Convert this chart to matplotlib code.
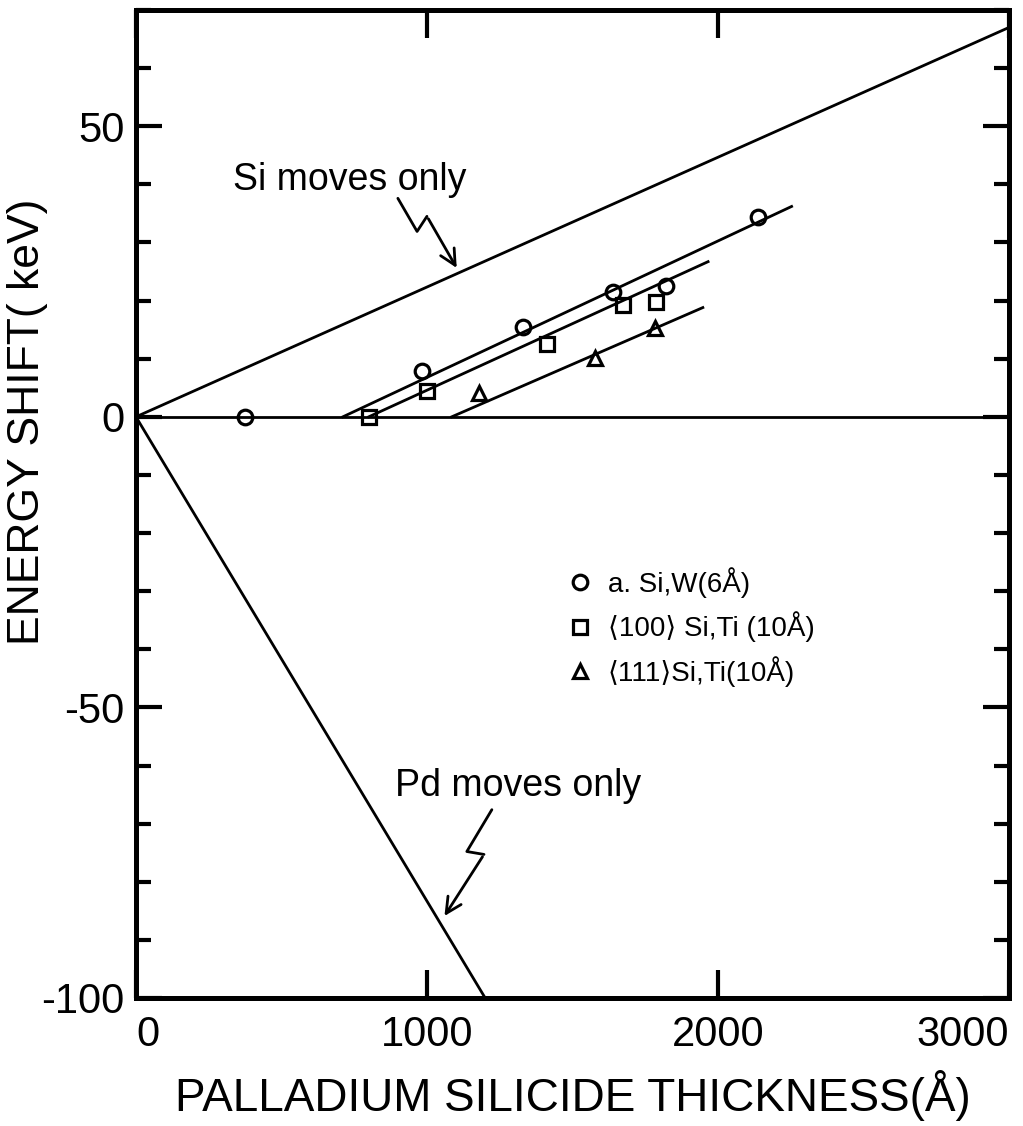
import matplotlib.pyplot as plt
from matplotlib.ticker import MultipleLocator, FixedLocator

plt.rcParams['font.family'] = ['Liberation Sans', 'DejaVu Sans']

# measured points (thickness in A, energy shift in keV)
a_si_x = [375, 982, 1329, 1640, 1821, 2139]
a_si_y = [0, 7.8, 15.5, 21.4, 22.5, 34.4]
si100_x = [802, 999, 1411, 1672, 1787]
si100_y = [0, 4.4, 12.5, 19.2, 19.7]
si111_x = [1179, 1577, 1784]
si111_y = [4.1, 10.1, 15.2]

# straight-line fits through each set
a_si_fit_x = [711, 2253]
a_si_fit_y = [0, 36.2]
si100_fit_x = [800, 1966]
si100_fit_y = [0, 26.7]
si111_fit_x = [1085, 1948]
si111_fit_y = [0, 18.8]

# limiting cases
si_only_x = [0, 3000]
si_only_y = [0, 67]
pd_only_x = [0, 1200]
pd_only_y = [0, -100]

legend_labels = ['a. Si,W(6Å)', '⟨100⟩ Si,Ti (10Å)', '⟨111⟩Si,Ti(10Å)']

LW = 2.0
fig = plt.figure(figsize=(10.23, 11.26), dpi=100)
ax = fig.add_axes([0.1329, 0.1137, 0.8534, 0.8774])

ax.plot(si_only_x, si_only_y, color='black', lw=LW)
ax.plot(pd_only_x, pd_only_y, color='black', lw=LW)
ax.axhline(0, color='black', lw=LW)

ax.plot(a_si_fit_x, a_si_fit_y, color='black', lw=LW)
ax.plot(si100_fit_x, si100_fit_y, color='black', lw=LW)
ax.plot(si111_fit_x, si111_fit_y, color='black', lw=LW)

mk = dict(ls='none', mfc='none', mec='black', mew=2.3, ms=10.5)
h1, = ax.plot(a_si_x, a_si_y, marker='o', **mk)
h2, = ax.plot(si100_x, si100_y, marker='s', **mk)
h3, = ax.plot(si111_x, si111_y, marker='^', **mk)

ax.legend([h1, h2, h3], legend_labels, loc='center left',
          bbox_to_anchor=(0.4926, 0.3755), frameon=False, fontsize=20,
          handlelength=1.0, handletextpad=0.5, labelspacing=0.5,
          borderpad=0, borderaxespad=0)

# labels with zigzag pointers
ax.text(333, 39.0, 'Si moves only', fontsize=27, va='baseline')
si_zig_x = [900, 966, 1000]
si_zig_y = [37.6, 31.9, 34.5]
ax.plot(si_zig_x, si_zig_y, color='black', lw=LW, solid_capstyle='round')
ax.annotate('', xy=(1107, 25.2), xytext=(1000, 34.5),
            arrowprops=dict(arrowstyle='->', lw=LW, mutation_scale=28, color='black'))

ax.text(890, -65.3, 'Pd moves only', fontsize=27, va='baseline')
pd_zig_x = [1223, 1137, 1196]
pd_zig_y = [-67.6, -74.8, -75.3]
ax.plot(pd_zig_x, pd_zig_y, color='black', lw=LW, solid_capstyle='round')
ax.annotate('', xy=(1055, -86.3), xytext=(1196, -75.3),
            arrowprops=dict(arrowstyle='->', lw=LW, mutation_scale=28, color='black'))

ax.set_xlim(0, 3000)
ax.set_ylim(-100, 70)

ax.xaxis.set_major_locator(FixedLocator([0, 1000, 2000, 3000]))
ax.yaxis.set_major_locator(MultipleLocator(50))
ax.yaxis.set_minor_locator(MultipleLocator(10))
ax.tick_params(axis='both', which='both', direction='in', width=3,
               labelsize=30, top=True, right=True)
ax.tick_params(axis='y', which='major', length=19, pad=8)
ax.tick_params(axis='y', which='minor', length=11)
ax.tick_params(axis='x', which='major', length=20, pad=12)
ax.set_yticks([-100, -50, 0, 50])
ax.set_yticklabels(['-100', '-50', '0', '50'])
xt = ax.get_xticklabels()
xt[0].set_ha('left')
xt[-1].set_ha('right')

for s in ax.spines.values():
    s.set_linewidth(3.6)

ax.set_xlabel('PALLADIUM SILICIDE THICKNESS(Å)', fontsize=33)
ax.set_ylabel('ENERGY SHIFT( keV)', fontsize=32)
ax.xaxis.set_label_coords(0.5, -0.073)
ax.yaxis.set_label_coords(-0.1008, 0.583)

fig.savefig('out.png', dpi=100)
